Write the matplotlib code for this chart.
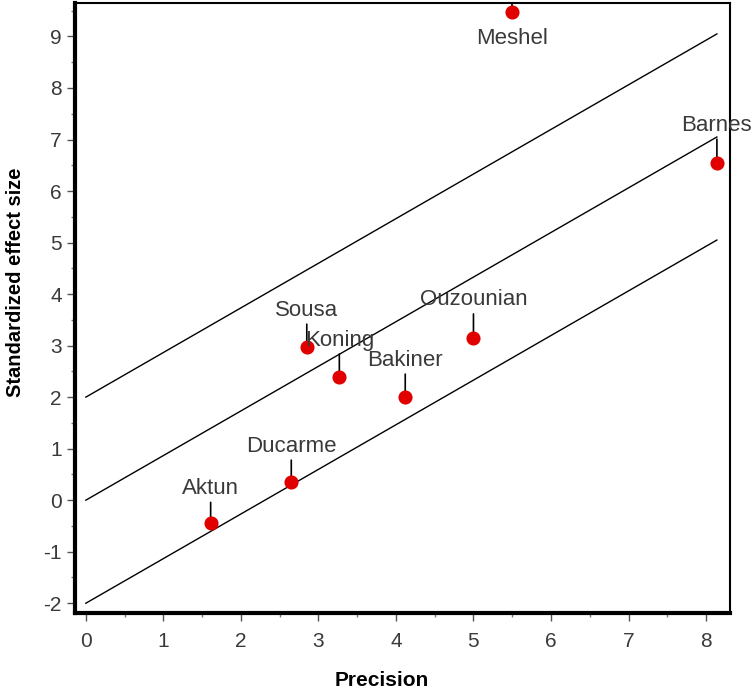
import matplotlib
matplotlib.use("Agg")
import matplotlib.pyplot as plt
from matplotlib.ticker import MultipleLocator
import numpy as np

plt.rcParams['font.family'] = ['Liberation Sans', 'DejaVu Sans']
plt.rcParams['axes.unicode_minus'] = False

# Galbraith plot data: precision (1/SE) and standardized effect (estimate/SE)
studies = ["Aktun", "Ducarme", "Sousa", "Koning", "Bakiner", "Ouzounian", "Meshel", "Barnes"]
precision = [1.61, 2.65, 2.85, 3.27, 4.12, 5.00, 5.50, 8.14]
std_effect = [-0.45, 0.35, 2.97, 2.39, 2.00, 3.15, 9.48, 6.54]
# label offset in pixels (positive = above the point)
label_dy = [35, 36, 37, 37, 37, 38, -27, 38]

pooled_slope = 0.866
band_offsets = [2.0, 0.0, -2.0]

fig = plt.figure(figsize=(7.55, 6.93), dpi=100)
ax = fig.add_axes([0.0993, 0.1154, 0.8677, 0.8803])

# regression line through the origin and the +/-2 band
xline = np.array([0.0, max(precision)])
for off in band_offsets:
    ax.plot(xline, off + pooled_slope * xline, color="black", lw=1.0, zorder=2)

ax.scatter(precision, std_effect, s=80, color="#e00000", marker="o",
           edgecolors="#e00000", linewidths=1.2, zorder=4)

ax.set_xlim(-0.14, 8.31)
ax.set_ylim(-2.19, 9.65)

px = 0.72  # points per pixel at 100 dpi
for name, x, y, dy in zip(studies, precision, std_effect, label_dy):
    ax.annotate(name, xy=(x, y), xytext=(0, dy * px), textcoords="offset points",
                ha="center", va="center", fontsize=16, color="#3a3a3a",
                annotation_clip=False, zorder=5)
    if dy > 0:
        ax.annotate("", xy=(x, y), xytext=(0, (dy - 14) * px), textcoords="offset points",
                    arrowprops=dict(arrowstyle="-", color="black", lw=1.2,
                                    shrinkA=0, shrinkB=4), zorder=3)
    else:
        ax.plot([x, x], [y, ax.get_ylim()[1]], color="black", lw=1.2, zorder=3)

for side in ["left", "bottom"]:
    ax.spines[side].set_linewidth(3.0)
for side in ["top", "right"]:
    ax.spines[side].set_linewidth(1.5)

ax.xaxis.set_major_locator(MultipleLocator(1))
ax.xaxis.set_minor_locator(MultipleLocator(0.5))
ax.yaxis.set_major_locator(MultipleLocator(1))
ax.yaxis.set_minor_locator(MultipleLocator(0.5))
ax.tick_params(which="major", direction="out", length=6, width=1.0,
               color="#555555", labelsize=15, labelcolor="#3a3a3a")
ax.tick_params(axis="x", which="major", pad=8)
ax.tick_params(which="minor", direction="out", length=3, width=1.0, color="#777777")

ax.set_xlabel("Precision", fontsize=15, fontweight="bold", labelpad=14)
ax.set_ylabel("Standardized effect size", fontsize=14.5, fontweight="bold", labelpad=13)
ax.xaxis.label.set_x(0.469)
ax.yaxis.label.set_y(0.543)

fig.savefig("out.png", dpi=100)
